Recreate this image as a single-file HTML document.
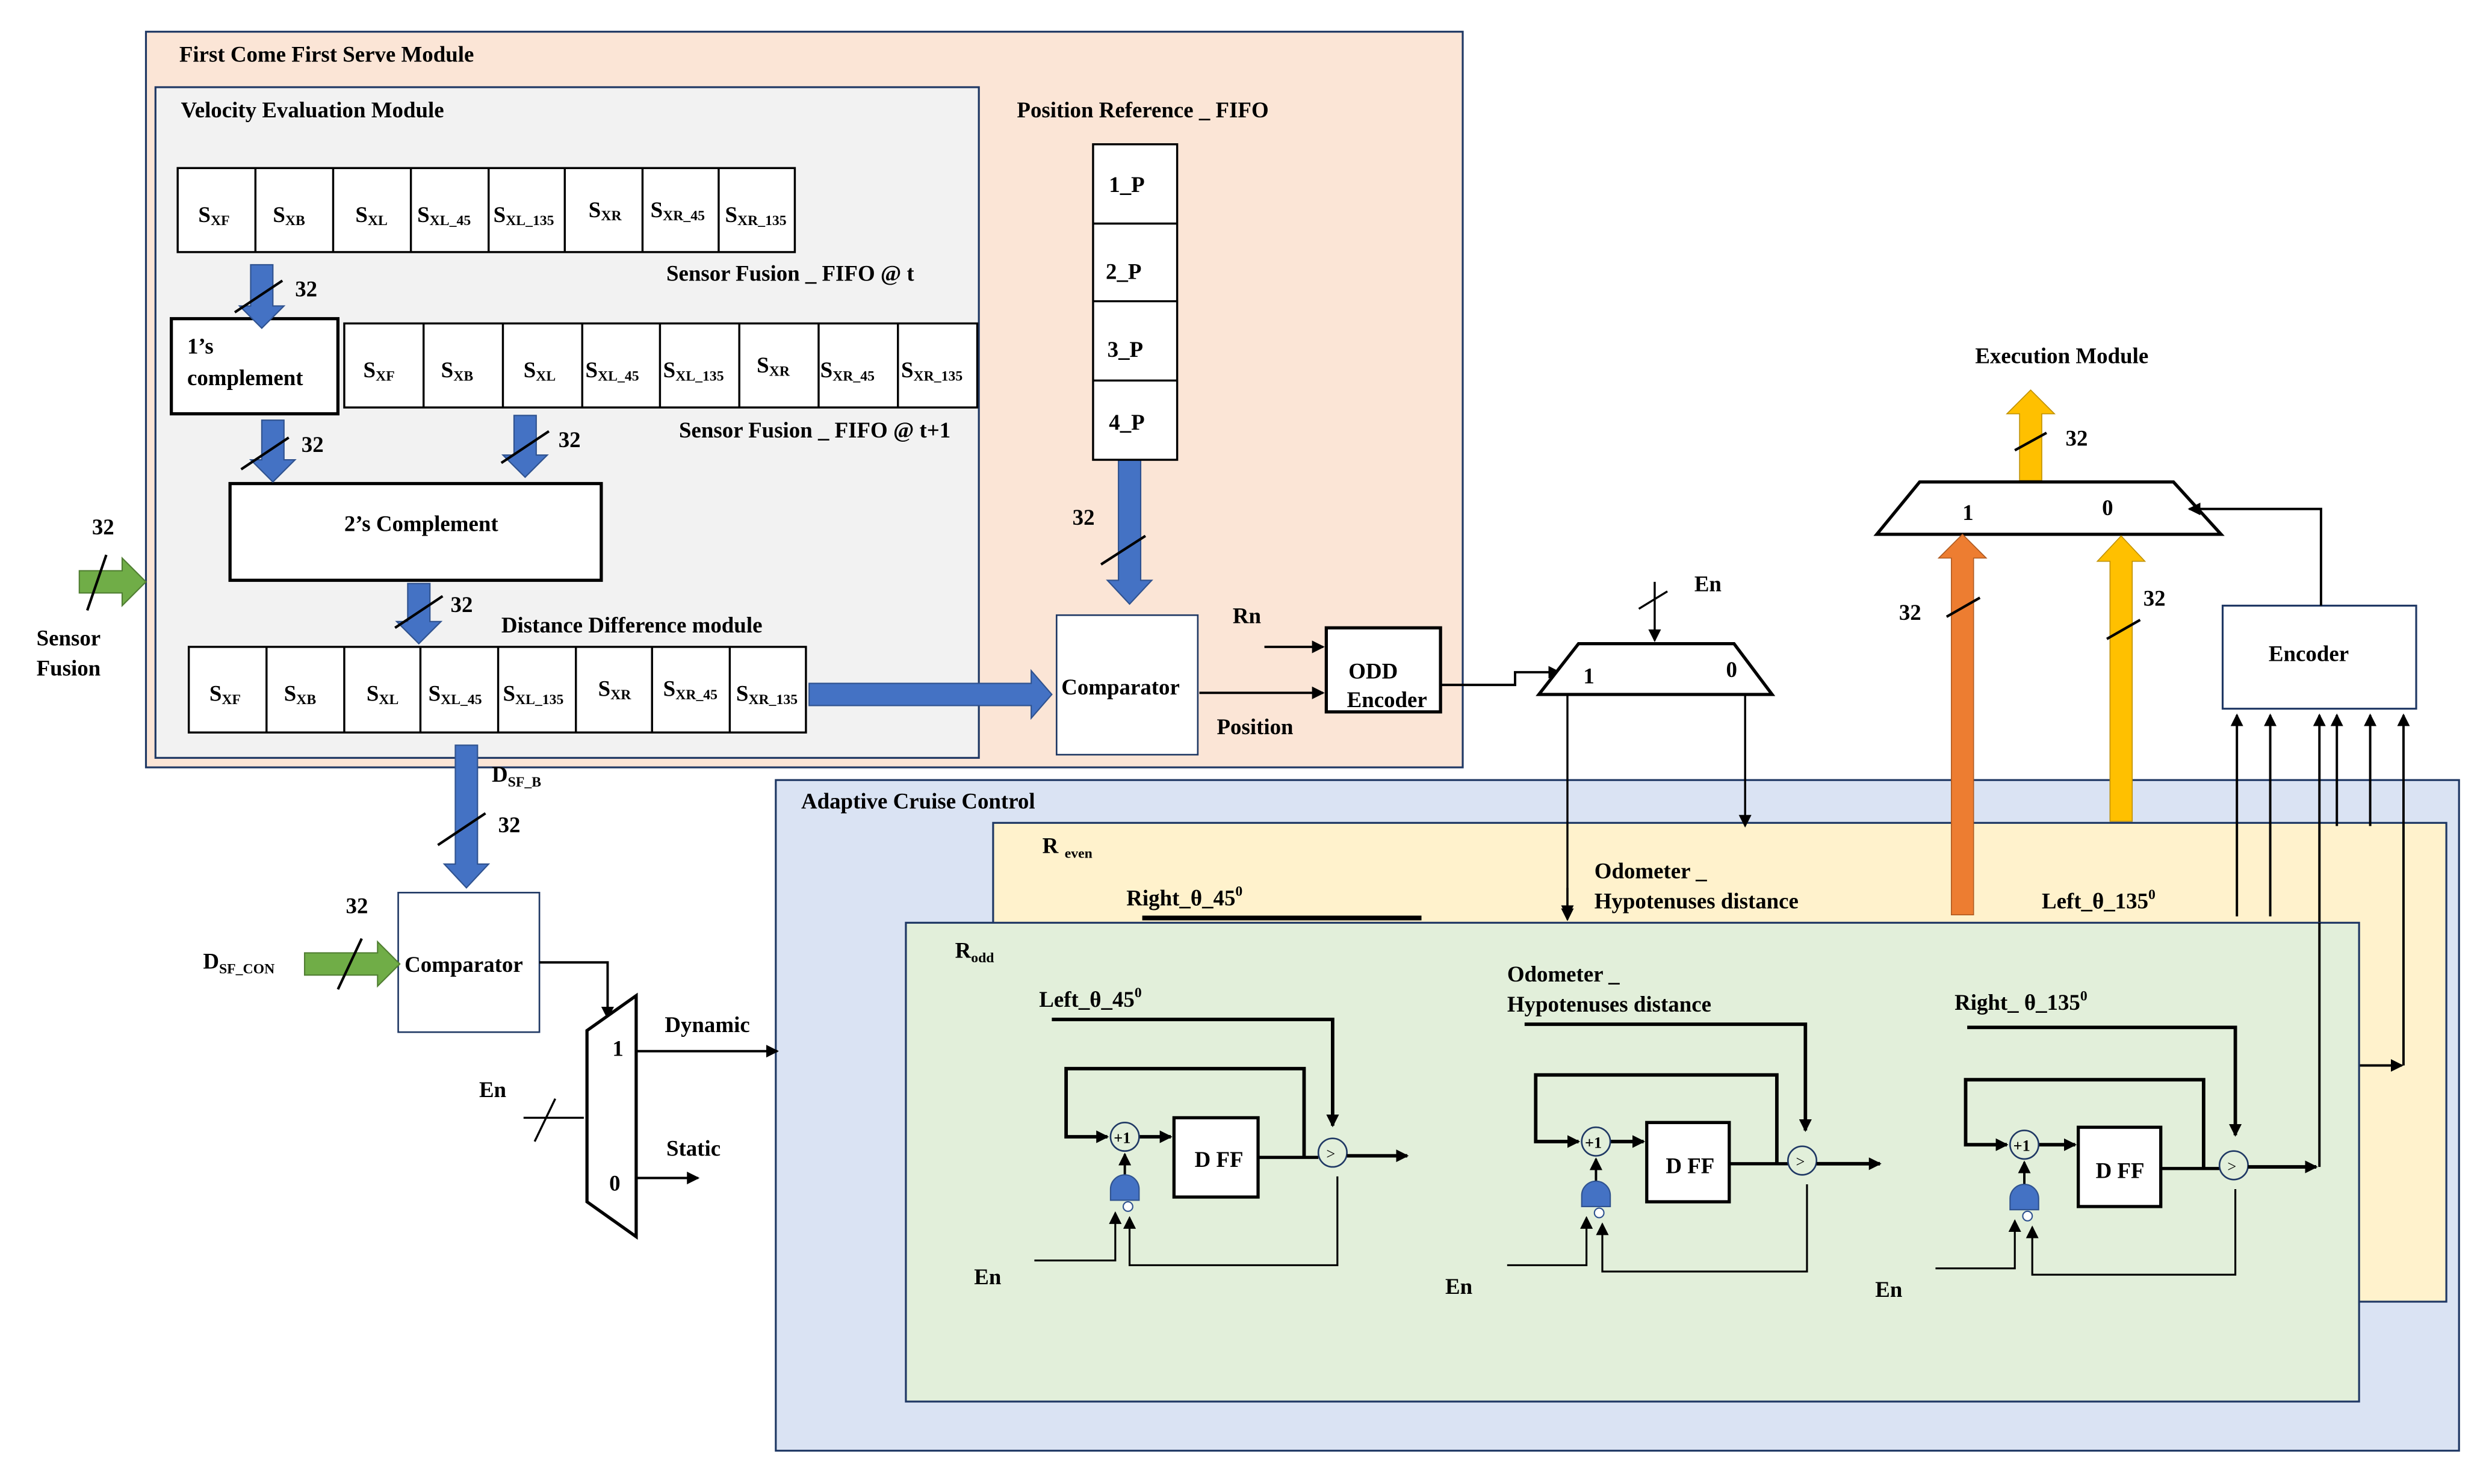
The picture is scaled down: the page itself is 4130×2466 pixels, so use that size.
<!DOCTYPE html>
<html><head><meta charset="utf-8"><style>
html,body{margin:0;padding:0;background:#fff;}
svg{display:block;}
text{font-family:"Liberation Serif",serif;font-weight:bold;font-size:14px;fill:#000;}
.s{font-size:9px;}
</style></head><body>
<svg width="4130" height="2466" viewBox="0 0 1567 936" preserveAspectRatio="none" xmlns="http://www.w3.org/2000/svg">
<defs>
<marker id="ah" markerWidth="8" markerHeight="8" refX="7" refY="4" orient="auto" markerUnits="userSpaceOnUse"><path d="M0,0 L8,4 L0,8 z" fill="#000"/></marker>
</defs>
<rect width="1567" height="936" fill="#fff"/>

<rect x="92" y="20" width="830" height="464" fill="#fbe5d6" stroke="#1f3864" stroke-width="1.2"/>
<text x="113" y="39">First Come First Serve Module</text>
<rect x="98" y="55" width="519" height="423" fill="#f2f2f2" stroke="#1f3864" stroke-width="1.2"/>
<text x="114" y="74">Velocity Evaluation Module</text>

<g stroke="#000" stroke-width="1.3" fill="#fff">
<rect x="112" y="106" width="389" height="53"/>
<line x1="161" y1="106" x2="161" y2="159"/><line x1="210" y1="106" x2="210" y2="159"/><line x1="259" y1="106" x2="259" y2="159"/><line x1="308" y1="106" x2="308" y2="159"/><line x1="356" y1="106" x2="356" y2="159"/><line x1="405" y1="106" x2="405" y2="159"/><line x1="453" y1="106" x2="453" y2="159"/>
</g>
<g>
<text x="125" y="140">S<tspan class="s" dy="2">XF</tspan></text>
<text x="172" y="140">S<tspan class="s" dy="2">XB</tspan></text>
<text x="224" y="140">S<tspan class="s" dy="2">XL</tspan></text>
<text x="263" y="140">S<tspan class="s" dy="2">XL_45</tspan></text>
<text x="311" y="140">S<tspan class="s" dy="2">XL_135</tspan></text>
<text x="371" y="137">S<tspan class="s" dy="2">XR</tspan></text>
<text x="410" y="137">S<tspan class="s" dy="2">XR_45</tspan></text>
<text x="457" y="140">S<tspan class="s" dy="2">XR_135</tspan></text>
</g>
<text x="420" y="177">Sensor Fusion _ FIFO @ t</text>

<g stroke="#000" stroke-width="1.3" fill="#fff">
<rect x="217" y="204" width="399" height="53"/>
<line x1="267" y1="204" x2="267" y2="257"/><line x1="317" y1="204" x2="317" y2="257"/><line x1="367" y1="204" x2="367" y2="257"/><line x1="416" y1="204" x2="416" y2="257"/><line x1="466" y1="204" x2="466" y2="257"/><line x1="516" y1="204" x2="516" y2="257"/><line x1="566" y1="204" x2="566" y2="257"/>
</g>
<text x="229" y="238">S<tspan class="s" dy="2">XF</tspan></text>
<text x="278" y="238">S<tspan class="s" dy="2">XB</tspan></text>
<text x="330" y="238">S<tspan class="s" dy="2">XL</tspan></text>
<text x="369" y="238">S<tspan class="s" dy="2">XL_45</tspan></text>
<text x="418" y="238">S<tspan class="s" dy="2">XL_135</tspan></text>
<text x="477" y="235">S<tspan class="s" dy="2">XR</tspan></text>
<text x="517" y="238">S<tspan class="s" dy="2">XR_45</tspan></text>
<text x="568" y="238">S<tspan class="s" dy="2">XR_135</tspan></text>
<text x="428" y="276">Sensor Fusion _ FIFO @ t+1</text>

<rect x="108" y="201" width="105" height="60" fill="#fff" stroke="#000" stroke-width="2"/>
<text x="118" y="223">1’s</text>
<text x="118" y="243">complement</text>

<rect x="145" y="305" width="234" height="61" fill="#fff" stroke="#000" stroke-width="2"/>
<text x="217" y="335">2’s Complement</text>

<g stroke="#000" stroke-width="1.3" fill="#fff">
<rect x="119" y="408" width="389" height="54"/>
<line x1="168" y1="408" x2="168" y2="462"/><line x1="217" y1="408" x2="217" y2="462"/><line x1="265" y1="408" x2="265" y2="462"/><line x1="314" y1="408" x2="314" y2="462"/><line x1="363" y1="408" x2="363" y2="462"/><line x1="411" y1="408" x2="411" y2="462"/><line x1="460" y1="408" x2="460" y2="462"/>
</g>
<text x="132" y="442">S<tspan class="s" dy="2">XF</tspan></text>
<text x="179" y="442">S<tspan class="s" dy="2">XB</tspan></text>
<text x="231" y="442">S<tspan class="s" dy="2">XL</tspan></text>
<text x="270" y="442">S<tspan class="s" dy="2">XL_45</tspan></text>
<text x="317" y="442">S<tspan class="s" dy="2">XL_135</tspan></text>
<text x="377" y="439">S<tspan class="s" dy="2">XR</tspan></text>
<text x="418" y="439">S<tspan class="s" dy="2">XR_45</tspan></text>
<text x="464" y="442">S<tspan class="s" dy="2">XR_135</tspan></text>
<text x="316" y="399">Distance Difference module</text>

<g fill="#4472c4" stroke="#2f528f" stroke-width="0.8">
<polygon points="158,167 172,167 172,193 179,193 165,207 151,193 158,193"/>
<polygon points="165,265 179,265 179,290 186,290 172,304 158,290 165,290"/>
<polygon points="324,262 338,262 338,287 345,287 331,301 317,287 324,287"/>
<polygon points="257,368 271,368 271,392 278,392 264,406 250,392 257,392"/>
<polygon points="705,290 719,290 719,366 726,366 712,381 698,366 705,366"/>
<polygon points="287,470 301,470 301,545 308,545 294,560 280,545 287,545"/>
<polygon points="510,431 650,431 650,423 663,438 650,453 650,445 510,445"/>
</g>
<g stroke="#000" stroke-width="1.6">
<line x1="148" y1="197" x2="178" y2="177"/>
<line x1="152" y1="296" x2="182" y2="276"/>
<line x1="316" y1="292" x2="346" y2="272"/>
<line x1="249" y1="396" x2="279" y2="376"/>
<line x1="694" y1="356" x2="722" y2="338"/>
<line x1="276" y1="533" x2="306" y2="513"/>
</g>
<text x="186" y="187">32</text>
<text x="190" y="285">32</text>
<text x="352" y="282">32</text>
<text x="284" y="386">32</text>
<text x="676" y="331">32</text>
<text x="314" y="525">32</text>
<text x="310" y="493">D<tspan class="s" dy="3">SF_B</tspan></text>

<polygon points="50,360 77,360 77,352 92,367 77,382 77,374 50,374" fill="#70ad47" stroke="#507e32" stroke-width="0.8"/>
<line x1="55" y1="385" x2="67" y2="350" stroke="#000" stroke-width="1.6"/>
<text x="58" y="337">32</text>
<text x="23" y="407">Sensor</text>
<text x="23" y="426">Fusion</text>

<text x="641" y="74">Position Reference _ FIFO</text>
<g stroke="#000" stroke-width="1.3" fill="#fff">
<rect x="689" y="91" width="53" height="199"/>
<line x1="689" y1="141" x2="742" y2="141"/><line x1="689" y1="190" x2="742" y2="190"/><line x1="689" y1="240" x2="742" y2="240"/>
</g>
<text x="699" y="121">1_P</text>
<text x="697" y="176">2_P</text>
<text x="698" y="225">3_P</text>
<text x="699" y="271">4_P</text>

<rect x="666" y="388" width="89" height="88" fill="#fff" stroke="#1f3864" stroke-width="1"/>
<text x="669" y="438">Comparator</text>
<text x="777" y="393">Rn</text>
<line x1="797" y1="408" x2="834" y2="408" stroke="#000" stroke-width="1.5" marker-end="url(#ah)"/>
<line x1="756" y1="437" x2="834" y2="437" stroke="#000" stroke-width="1.5" marker-end="url(#ah)"/>
<text x="767" y="463">Position</text>
<rect x="836" y="396" width="72" height="53" fill="#fff" stroke="#000" stroke-width="2"/>
<text x="850" y="428">ODD</text>
<text x="849" y="446">Encoder</text>
<polyline points="908,432 955,432 955,424 983,424" fill="none" stroke="#000" stroke-width="1.5" marker-end="url(#ah)"/>

<polygon points="995,406 1093,406 1117,438 970,438" fill="#fff" stroke="#000" stroke-width="2"/>
<text x="998" y="431">1</text>
<text x="1088" y="427">0</text>
<text x="1068" y="373">En</text>
<line x1="1043" y1="367" x2="1043" y2="404" stroke="#000" stroke-width="1.3" marker-end="url(#ah)"/>
<line x1="1033" y1="384" x2="1051" y2="373" stroke="#000" stroke-width="1.3"/>

<rect x="489" y="492" width="1061" height="423" fill="#dae3f3" stroke="#1f3864" stroke-width="1.2"/>
<text x="505" y="510">Adaptive Cruise Control</text>
<rect x="626" y="519" width="916" height="302" fill="#fff2cc" stroke="#1f3864" stroke-width="1.2"/>
<text x="657" y="538">R<tspan class="s" dx="4" dy="3">even</tspan></text>
<text x="710" y="571">Right_θ_45<tspan class="s" dy="-6">0</tspan></text>
<line x1="720" y1="579" x2="896" y2="579" stroke="#000" stroke-width="3"/>
<text x="1005" y="554">Odometer _</text>
<text x="1005" y="573">Hypotenuses distance</text>
<text x="1287" y="573">Left_θ_135<tspan class="s" dy="-6">0</tspan></text>

<line x1="988" y1="438" x2="988" y2="578" stroke="#000" stroke-width="1.3" marker-end="url(#ah)"/>
<line x1="1100" y1="438" x2="1100" y2="521" stroke="#000" stroke-width="1.3" marker-end="url(#ah)"/>

<text x="1245" y="229">Execution Module</text>
<polygon points="1273,303 1287,303 1287,261 1295,261 1280,246 1265,261 1273,261" fill="#ffc000" stroke="#bf9000" stroke-width="0.6"/>
<line x1="1270" y1="284" x2="1290" y2="273" stroke="#000" stroke-width="1.6"/>
<text x="1302" y="281">32</text>
<polygon points="1210,304 1370,304 1400,337 1183,337" fill="#fff" stroke="#000" stroke-width="2"/>
<text x="1237" y="328">1</text>
<text x="1325" y="325">0</text>
<polygon points="1230,577 1244,577 1244,352 1252,352 1237,337 1222,352 1230,352" fill="#ed7d31" stroke="#ae5a21" stroke-width="0.6"/>
<line x1="1227" y1="389" x2="1248" y2="377" stroke="#000" stroke-width="1.6"/>
<text x="1197" y="391">32</text>
<polygon points="1330,518 1344,518 1344,354 1352,354 1337,338 1322,354 1330,354" fill="#ffc000" stroke="#bf9000" stroke-width="0.6"/>
<line x1="1328" y1="403" x2="1349" y2="391" stroke="#000" stroke-width="1.6"/>
<text x="1351" y="382">32</text>

<rect x="1401" y="382" width="122" height="65" fill="#fff" stroke="#1f3864" stroke-width="1.2"/>
<text x="1430" y="417">Encoder</text>
<polyline points="1463,382 1463,321 1380,321" fill="none" stroke="#000" stroke-width="1.5" marker-end="url(#ah)"/>
<g stroke="#000" stroke-width="1.5">
<line x1="1410" y1="578" x2="1410" y2="451" marker-end="url(#ah)"/>
<line x1="1431" y1="578" x2="1431" y2="451" marker-end="url(#ah)"/>
<line x1="1462" y1="736" x2="1462" y2="451" marker-end="url(#ah)"/>
<line x1="1473" y1="521" x2="1473" y2="451" marker-end="url(#ah)"/>
<line x1="1494" y1="521" x2="1494" y2="451" marker-end="url(#ah)"/>
<line x1="1515" y1="672" x2="1515" y2="451" marker-end="url(#ah)"/>
<line x1="1487" y1="672" x2="1514" y2="672" marker-end="url(#ah)"/>
</g>

<rect x="571" y="582" width="916" height="302" fill="#e2efda" stroke="#1f3864" stroke-width="1.2"/>
<line x1="988" y1="560" x2="988" y2="580" stroke="#000" stroke-width="1.3" marker-end="url(#ah)"/>
<line x1="1462" y1="582" x2="1462" y2="736" stroke="#000" stroke-width="1.5"/>
<text x="602" y="604">R<tspan class="s" dy="3">odd</tspan></text>
<text x="655" y="635">Left_θ_45<tspan class="s" dy="-6">0</tspan></text>
<text x="950" y="619">Odometer _</text>
<text x="950" y="638">Hypotenuses distance</text>
<text x="1232" y="637">Right_ θ_135<tspan class="s" dy="-6">0</tspan></text>

<g stroke="#000" fill="none">
<polyline points="663,643 840,643 840,710" stroke-width="2.2" marker-end="url(#ah)"/>
<polyline points="822,730 822,674 672,674 672,717 698,717" stroke-width="2.2" marker-end="url(#ah)"/>
<line x1="718" y1="717" x2="738" y2="717" stroke-width="2.2" marker-end="url(#ah)"/>
<circle cx="709" cy="717" r="9" stroke="#1f3864" stroke-width="1" fill="#e2efda"/>
<rect x="740" y="705" width="53" height="50" fill="#fff" stroke-width="2"/>
<line x1="793" y1="730" x2="831" y2="730" stroke-width="2"/>
<circle cx="840" cy="727" r="9" stroke="#1f3864" stroke-width="1" fill="#e2efda"/>
<line x1="849" y1="729" x2="887" y2="729" stroke-width="2.2" marker-end="url(#ah)"/>
<polyline points="843,742 843,798 712,798 712,768" stroke-width="1.2" marker-end="url(#ah)"/>
<polyline points="652,795 703,795 703,765" stroke-width="1.2" marker-end="url(#ah)"/>
<line x1="709" y1="742" x2="709" y2="728" stroke-width="1.5" marker-end="url(#ah)"/>
<path d="M700,757 L700,750 A9,9 0 0 1 718,750 L718,757 Z" fill="#4472c4" stroke="#2f528f" stroke-width="0.8"/>
<circle cx="711" cy="761" r="3" fill="#fff" stroke="#2f528f" stroke-width="0.8"/>
</g>
<text x="702" y="721" style="font-size:10px">+1</text>
<text x="753" y="736">D FF</text>
<text x="836" y="731" style="font-size:10px;font-weight:normal">&gt;</text>
<text x="614" y="810">En</text>

<g stroke="#000" fill="none">
<polyline points="961,646 1138,646 1138,713" stroke-width="2.2" marker-end="url(#ah)"/>
<polyline points="1120,734 1120,678 968,678 968,720 995,720" stroke-width="2.2" marker-end="url(#ah)"/>
<line x1="1015" y1="720" x2="1036" y2="720" stroke-width="2.2" marker-end="url(#ah)"/>
<circle cx="1006" cy="720" r="9" stroke="#1f3864" stroke-width="1" fill="#e2efda"/>
<rect x="1038" y="708" width="52" height="50" fill="#fff" stroke-width="2"/>
<line x1="1090" y1="734" x2="1127" y2="734" stroke-width="2"/>
<circle cx="1136" cy="732" r="9" stroke="#1f3864" stroke-width="1" fill="#e2efda"/>
<line x1="1145" y1="734" x2="1185" y2="734" stroke-width="2.2" marker-end="url(#ah)"/>
<polyline points="1139,747 1139,802 1010,802 1010,772" stroke-width="1.2" marker-end="url(#ah)"/>
<polyline points="950,798 1000,798 1000,768" stroke-width="1.2" marker-end="url(#ah)"/>
<line x1="1006" y1="745" x2="1006" y2="731" stroke-width="1.5" marker-end="url(#ah)"/>
<path d="M997,761 L997,754 A9,9 0 0 1 1015,754 L1015,761 Z" fill="#4472c4" stroke="#2f528f" stroke-width="0.8"/>
<circle cx="1008" cy="765" r="3" fill="#fff" stroke="#2f528f" stroke-width="0.8"/>
</g>
<text x="999" y="724" style="font-size:10px">+1</text>
<text x="1050" y="740">D FF</text>
<text x="1132" y="736" style="font-size:10px;font-weight:normal">&gt;</text>
<text x="911" y="816">En</text>

<g stroke="#000" fill="none">
<polyline points="1240,648 1409,648 1409,716" stroke-width="2.2" marker-end="url(#ah)"/>
<polyline points="1389,737 1389,681 1239,681 1239,722 1265,722" stroke-width="2.2" marker-end="url(#ah)"/>
<line x1="1285" y1="722" x2="1308" y2="722" stroke-width="2.2" marker-end="url(#ah)"/>
<circle cx="1276" cy="722" r="9" stroke="#1f3864" stroke-width="1" fill="#e2efda"/>
<rect x="1310" y="711" width="52" height="50" fill="#fff" stroke-width="2"/>
<line x1="1362" y1="737" x2="1399" y2="737" stroke-width="2"/>
<circle cx="1408" cy="735" r="9" stroke="#1f3864" stroke-width="1" fill="#e2efda"/>
<line x1="1417" y1="736" x2="1460" y2="736" stroke-width="2.2" marker-end="url(#ah)"/>
<polyline points="1409,750 1409,804 1281,804 1281,774" stroke-width="1.2" marker-end="url(#ah)"/>
<polyline points="1220,800 1270,800 1270,770" stroke-width="1.2" marker-end="url(#ah)"/>
<line x1="1276" y1="747" x2="1276" y2="733" stroke-width="1.5" marker-end="url(#ah)"/>
<path d="M1267,763 L1267,756 A9,9 0 0 1 1285,756 L1285,763 Z" fill="#4472c4" stroke="#2f528f" stroke-width="0.8"/>
<circle cx="1278" cy="767" r="3" fill="#fff" stroke="#2f528f" stroke-width="0.8"/>
</g>
<text x="1269" y="726" style="font-size:10px">+1</text>
<text x="1321" y="743">D FF</text>
<text x="1404" y="739" style="font-size:10px;font-weight:normal">&gt;</text>
<text x="1182" y="818">En</text>

<rect x="251" y="563" width="89" height="88" fill="#fff" stroke="#1f3864" stroke-width="1"/>
<text x="255" y="613">Comparator</text>
<text x="128" y="611">D<tspan class="s" dy="3">SF_CON</tspan></text>
<polygon points="192,601 238,601 238,594 252,608 238,622 238,615 192,615" fill="#70ad47" stroke="#507e32" stroke-width="0.8"/>
<line x1="213" y1="624" x2="228" y2="592" stroke="#000" stroke-width="1.6"/>
<text x="218" y="576">32</text>
<polyline points="340,607 383,607 383,642" fill="none" stroke="#000" stroke-width="1.5" marker-end="url(#ah)"/>
<polygon points="370,650 401,628 401,780 370,758" fill="#fff" stroke="#000" stroke-width="2"/>
<text x="386" y="666">1</text>
<text x="384" y="751">0</text>
<text x="302" y="692">En</text>
<line x1="330" y1="705" x2="368" y2="705" stroke="#000" stroke-width="1.3"/>
<line x1="337" y1="720" x2="350" y2="693" stroke="#000" stroke-width="1.3"/>
<line x1="401" y1="663" x2="490" y2="663" stroke="#000" stroke-width="1.5" marker-end="url(#ah)"/>
<text x="419" y="651">Dynamic</text>
<line x1="401" y1="743" x2="440" y2="743" stroke="#000" stroke-width="1.5" marker-end="url(#ah)"/>
<text x="420" y="729">Static</text>
</svg>
</body></html>
